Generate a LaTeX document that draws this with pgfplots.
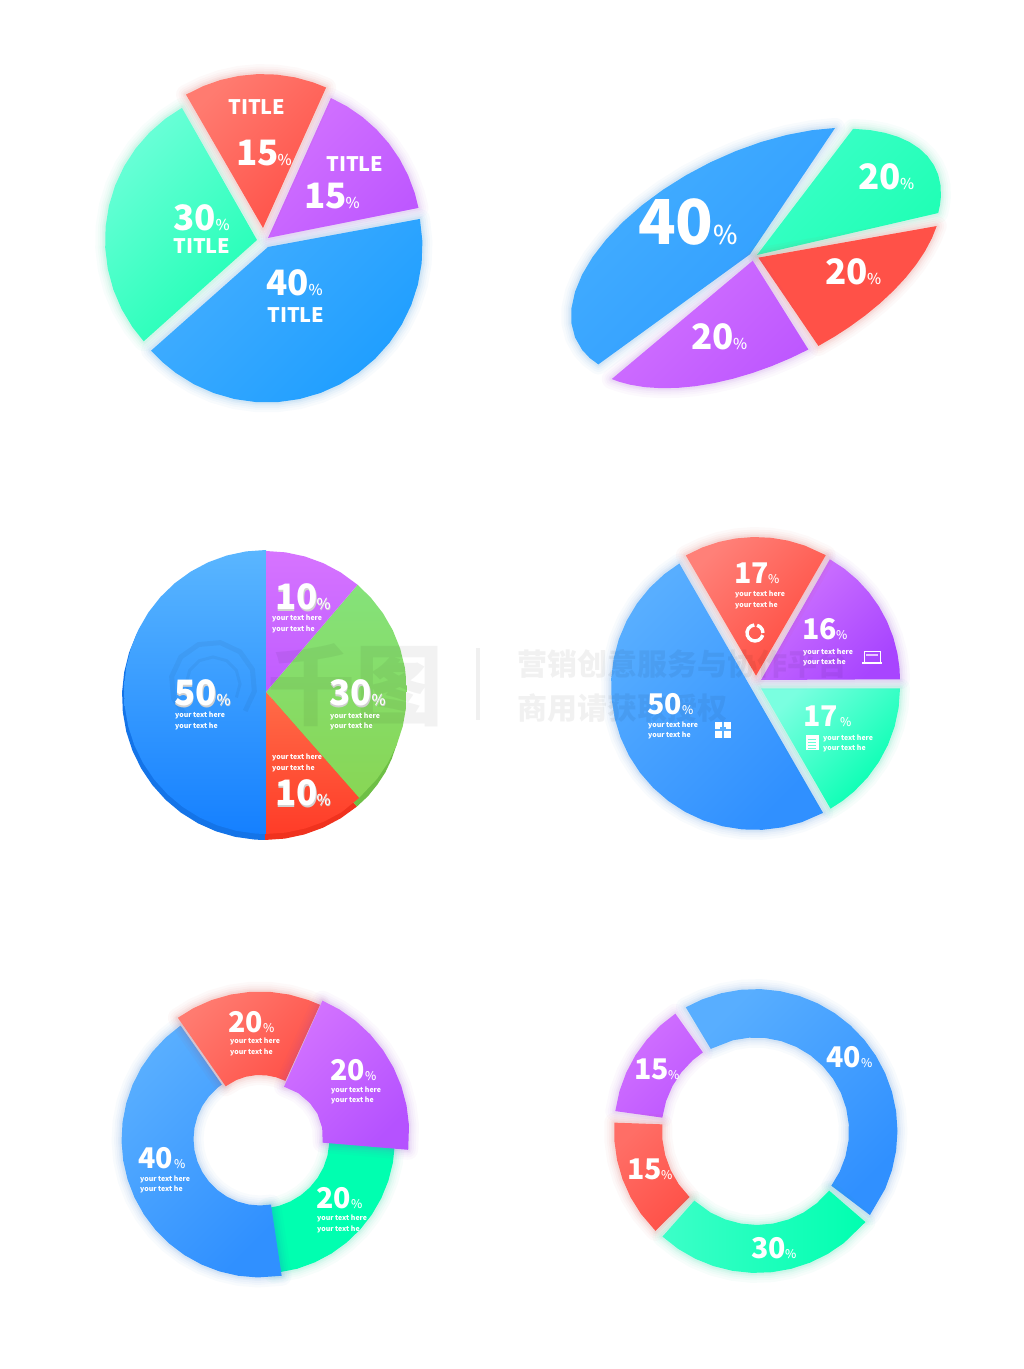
\documentclass[border=0pt]{standalone}
\usepackage{fontspec}
\setmainfont{Noto Sans CJK SC}
\newfontfamily\medf{Noto Sans CJK SC Medium}
\usepackage{pgfplots}
\pgfplotsset{compat=1.18}
\usepgfplotslibrary{polar}

% palette, light end then dark end
\definecolor{redA}{HTML}{FF7B70}\definecolor{redB}{HTML}{FF5148}
\definecolor{purA}{HTML}{D272FF}\definecolor{purB}{HTML}{BE58FF}
\definecolor{greA}{HTML}{6BFFD8}\definecolor{greB}{HTML}{20FFB5}
\definecolor{greC}{HTML}{3CFFC8}
\definecolor{bluA}{HTML}{44AEFF}\definecolor{bluB}{HTML}{1E9EFF}
\definecolor{bluC}{HTML}{2E9CFF}
\definecolor{bl2A}{HTML}{58AEFF}\definecolor{bl2B}{HTML}{3090FF}
\definecolor{pu2A}{HTML}{D076FF}\definecolor{pu2B}{HTML}{A845FF}
\definecolor{pu3B}{HTML}{B552FF}
\definecolor{gr2A}{HTML}{7AFFE0}\definecolor{gr2B}{HTML}{00FFB0}
\definecolor{re2A}{HTML}{FF8078}\definecolor{re2B}{HTML}{FF4A3E}
\definecolor{re3A}{HTML}{FF6E66}
\definecolor{p3bA}{HTML}{5AB6FF}\definecolor{p3bB}{HTML}{1580FF}
\definecolor{p3pA}{HTML}{D674FF}\definecolor{p3pB}{HTML}{BF5CFF}
\definecolor{p3gA}{HTML}{85E27A}\definecolor{p3gB}{HTML}{88D655}
\definecolor{p3rA}{HTML}{FF6C48}\definecolor{p3rB}{HTML}{FF3C28}
\definecolor{rimb}{HTML}{1474E8}\definecolor{rimr}{HTML}{F0321E}\definecolor{rimg}{HTML}{6EBF46}

% [shading angle]{centre x}{centre y, px from top}{light}{dark}{polar points}
\newcommand{\piece}[6][45]{%
  \addplot[data cs=polar,xshift=#2pt,yshift={(1369-#3)*1pt},draw=#5!80!black,fill=none,opacity=.03,line width=20pt,line join=round] coordinates {#6} --cycle;
  \addplot[data cs=polar,xshift=#2pt,yshift={(1369-#3)*1pt},draw=#5!80!black,fill=none,opacity=.03,line width=15pt,line join=round] coordinates {#6} --cycle;
  \addplot[data cs=polar,xshift=#2pt,yshift={(1369-#3)*1pt},draw=#5!80!black,fill=none,opacity=.04,line width=11pt,line join=round] coordinates {#6} --cycle;
  \addplot[data cs=polar,xshift=#2pt,yshift={(1369-#3)*1pt},draw=#5!80!black,fill=none,opacity=.05,line width=7pt,line join=round] coordinates {#6} --cycle;
  \addplot[data cs=polar,xshift=#2pt,yshift={(1369-#3)*1pt},draw=#5!80!black,fill=none,opacity=.06,line width=4pt,line join=round] coordinates {#6} --cycle;
  \addplot[data cs=polar,xshift=#2pt,yshift={(1369-#3)*1pt},draw=none,top color=#4,bottom color=#5,shading angle=#1] coordinates {#6} --cycle;
}
% same, without the glow
\newcommand{\flatpiece}[6][0]{%
  \addplot[data cs=polar,xshift=#2pt,yshift={(1369-#3)*1pt},draw=none,top color=#4,bottom color=#5,shading angle=#1] coordinates {#6} --cycle;
}
% {x}{baseline}{number}{size}{x of percent}{size of percent}
\newcommand{\val}[6]{%
  \node[anchor=base west,inner sep=0pt,text=white] at (axis cs:#1-1,{1369-#2-1}) {\fontsize{#4}{#4}\selectfont\bfseries #3};
  \node[anchor=base west,inner sep=0pt,text=white] at (axis cs:#5,{1369-#2-1}) {\fontsize{#6}{#6}\selectfont\medf \%};
}
% number with the grey lower edge of the third pie
\newcommand{\valrim}[6]{%
  \node[anchor=base west,inner sep=0pt,text=black!18] at (axis cs:#1-.5,{1369-#2-2.5}) {\fontsize{#4}{#4}\selectfont\bfseries #3};
  \node[anchor=base west,inner sep=0pt,text=black!18] at (axis cs:#5+.4,{1369-#2-2}) {\fontsize{#6}{#6}\selectfont\medf \%};
  \val{#1}{#2}{#3}{#4}{#5}{#6}
}
\newcommand{\ttl}[2]{%
  \node[anchor=base west,inner sep=0pt,text=white] at (axis cs:#1,{1369-#2-1}) {\fontsize{20}{20}\selectfont\bfseries TITLE};
}
\newcommand{\lines}[3]{%
  \node[anchor=base west,inner sep=0pt,text=white] at (axis cs:#1,{1369-#2-1}) {\fontsize{7}{7}\selectfont\bfseries your text here};
  \node[anchor=base west,inner sep=0pt,text=white] at (axis cs:#1,{1369-#3-1}) {\fontsize{7}{7}\selectfont\bfseries your text he};
}
% small icon, points relative to its centre
\newcommand{\icon}[4]{%
  \addplot[xshift=#1pt,yshift={(1369-#2)*1pt},#3] coordinates {#4};
}

\begin{document}
\begin{tikzpicture}
\path[use as bounding box] (0pt,0pt) rectangle (1024pt,1369pt);

% tilted pie, top right: unit circle through skewed axis vectors
\begin{axis}[x={(184pt,62pt)},y={(0pt,110pt)},xmin=-1.5,xmax=1.5,ymin=-1.5,ymax=1.5,
  hide axis,clip=false,at={(0pt,0pt)},anchor=origin]
\piece{755}{254}{bluA}{bluC}{(155,.03)(64.2,1)(72,1)(80,1)(88,1)(96,1)(104,1)(112,1)(120,1)(128,1)(136,1)(144,1)(152,1)(160,1)(168,1)(176,1)(184,1)(192,1)(200,1)(206,1)(211.6,1)}
\piece{757}{255}{greC}{greB}{(0,0)(58.5,1)(52,1)(46,1)(40,1)(34,1)(28,1)(22,1)(16,1)(10,1)(4,1)(-2,1)(-6,1)(-10,1)}
\piece{757}{263}{redB}{redB}{(81,.045)(-12.4,1)(-18,1)(-24,1)(-30,1)(-36,1)(-42,1)(-48,1)(-54,1)(-60,1)(-65,1)(-70.5,1)}
\piece{755.5}{262}{purA}{purB}{(127,.025)(-73.3,1)(-79,1)(-85,1)(-91,1)(-97,1)(-103,1)(-109,1)(-115,1)(-121,1)(-127,1)(-133,1)(-138,1)(-141.4,1)}
\end{axis}

\begin{axis}[x=1pt,y=1pt,xmin=0,xmax=1024,ymin=0,ymax=1369,
  hide axis,clip=false,at={(0pt,0pt)},anchor=origin]

% first pie, exploded
\piece{267}{247}{bluA}{bluB}{(0,1)(10.4,155.5)(2,155.5)(-6,155.5)(-14,155.5)(-22,155.5)(-30,155.5)(-38,155.5)(-46,155.5)(-54,155.5)(-62,155.5)(-70,155.5)(-78,155.5)(-86,155.5)(-94,155.5)(-102,155.5)(-110,155.5)(-118,155.5)(-126,155.5)(-132,155.5)(-138.2,155.5)}
\piece{257}{240}{greA}{greB}{(0,0)(119.6,152)(127,152)(135,152)(143,152)(151,152)(159,152)(167,152)(175,152)(183,152)(191,152)(199,152)(207,152)(215,152)(221.8,152)}
\piece{268}{238}{purA}{purB}{(0,0)(65.8,153.5)(59,153.5)(52,153.5)(45,153.5)(38,153.5)(31,153.5)(24,153.5)(17,153.5)(11.3,153.5)}
\piece{263}{228}{redA}{redB}{(0,0)(120,154)(113,154)(106,154)(99,154)(92,154)(85,154)(78,154)(71,154)(65.8,154)}

% third pie, flat with a darker rim
\addplot[data cs=polar,xshift=265pt,yshift={(1369-697)*1pt},draw=none,fill=rimb] coordinates {(90,143)(98,143)(106,143)(114,143)(122,143)(130,143)(138,143)(146,143)(154,143)(162,143)(170,143)(178,143)(186,143)(194,143)(202,143)(210,143)(218,143)(226,143)(234,143)(242,143)(250,143)(258,143)(266,143)(270,143)} --cycle;
\addplot[data cs=polar,xshift=265pt,yshift={(1369-697)*1pt},draw=none,fill=rimr] coordinates {(0,0)(270,143)(278,143)(286,143)(294,143)(302,143)(310,143)} --cycle;
\addplot[data cs=polar,xshift=265pt,yshift={(1369-697)*1pt},draw=none,fill=rimg] coordinates {(0,0)(310,143)(316,143)(322,142.5)(328,142)(334,141)(340,140)(346,139)} --cycle;
\flatpiece{266}{692}{p3bA}{p3bB}{(90,142)(98,142)(106,142)(114,142)(122,142)(130,142)(138,142)(146,142)(154,142)(162,142)(170,142)(178,142)(186,142)(194,142)(202,142)(210,142)(218,142)(226,142)(234,142)(242,142)(250,142)(258,142)(266,142)(270,142)}
\flatpiece{266}{692}{p3gA}{p3gB}{(0,0)(49.5,141)(42,141)(34,141)(26,141)(18,141)(10,141)(2,141)(-6,141)(-14,141)(-22,141)(-30,141)(-38,141)(-48.7,141)}
\flatpiece{266}{692}{p3pA}{p3pB}{(0,0)(90,141)(82,141)(74,141)(66,141)(58,141)(49.5,141)}
\flatpiece{266}{692}{p3rA}{p3rB}{(0,0)(-90,142)(-82,142)(-74,142)(-66,142)(-58,142)(-48.7,141)}

% fourth pie
\piece{755}{686}{bl2A}{bl2B}{(121.7,144)(129,144)(137,144)(145,144)(153,144)(161,144)(169,144)(177,144)(185,144)(193,144)(201,144)(209,144)(217,144)(225,144)(233,144)(241,144)(249,144)(257,144)(265,144)(273,144)(281,144)(289,144)(298.2,144)}
\piece{761}{688.3}{gr2A}{gr2B}{(0,0)(0,139)(-8,139)(-16,139)(-24,139)(-32,139)(-40,139)(-48,139)(-54,139)(-60,139)}
\piece{761}{680}{pu2A}{pu2B}{(0,0)(60.3,139)(53,139)(46,139)(39,139)(32,139)(25,139)(18,139)(11,139)(5,139)(0.3,139)}
\piece{756}{680}{re2A}{re2B}{(90,4.3)(119.4,143)(112,143)(105,143)(98,143)(91,143)(84,143)(77,143)(70,143)(60.8,143)}

% fifth pie, ring
\piece{260}{1139}{gr2B}{gr2B}{(-2,135)(-10,135)(-18,135)(-26,135)(-34,135)(-42,135)(-50,135)(-58,135)(-66,135)(-74,135)(-84,135)(-84,69.5)(-74,69.5)(-64,69.5)(-54,69.5)(-44,69.5)(-34,69.5)(-24,69.5)(-14,69.5)(-2,69.5)}
\piece{260}{1139}{bl2A}{bl2B}{(125,138.5)(133,138.5)(141,138.5)(149,138.5)(157,138.5)(165,138.5)(173,138.5)(181,138.5)(189,138.5)(197,138.5)(205,138.5)(213,138.5)(221,138.5)(229,138.5)(237,138.5)(245,138.5)(253,138.5)(261,138.5)(269,138.5)(279,138.5)(279.5,66.5)(270,66.5)(260,66.5)(250,66.5)(240,66.5)(230,66.5)(220,66.5)(210,66.5)(200,66.5)(190,66.5)(180,66.5)(170,66.5)(160,66.5)(150,66.5)(140,66.5)(130,66.5)(125,66.5)}
\piece{260}{1133}{redA}{redB}{(125.5,141.5)(118,141.5)(110,141.5)(102,141.5)(94,141.5)(86,141.5)(78,141.5)(70,141.5)(64.9,141.5)(64,58)(74,58)(84,58)(94,58)(104,58)(114,58)(126.3,58)}
\piece{264.9}{1133}{purA}{pu3B}{(66.5,144.3)(59,144.3)(51,144.3)(43,144.3)(35,144.3)(27,144.3)(19,144.3)(11,144.3)(3,144.3)(-6.7,144.3)(-9.5,58.6)(5,57.5)(20,56)(33.6,54)(50,52)(67.6,50.1)}

% sixth pie, thin ring
\piece{755.5}{1131}{bl2A}{bl2B}{(119.4,142)(112,142)(104,142)(96,142)(88,142)(80,142)(72,142)(64,142)(56,142)(48,142)(40,142)(32,142)(24,142)(16,142)(8,142)(0,142)(-8,142)(-16,142)(-24,142)(-36.3,142)(-35.8,93.5)(-26,93.5)(-16,93.5)(-6,93.5)(4,93.5)(14,93.5)(24,93.5)(34,93.5)(44,93.5)(54,93.5)(64,93.5)(74,93.5)(84,93.5)(94,93.5)(104,93.5)(118.6,93.5)}
\piece{755}{1130}{purA}{purB}{(124.4,141)(132,141)(140,141)(148,141)(156,141)(164,141)(172.3,141)(172.4,93.5)(162,93.5)(152,93.5)(142,93.5)(132,93.5)(123.9,93.5)}
\piece{755}{1131}{re3A}{redB}{(176.6,141)(184,141)(192,141)(200,141)(208,141)(216,141)(225.1,141)(225.3,93)(215,93)(205,93)(195,93)(185,93)(175.9,93)}
\piece[90]{757}{1132}{greC}{gr2B}{(227.9,141)(236,141)(244,141)(252,141)(260,141)(268,141)(276,141)(284,141)(292,141)(300,141)(308,141)(320.3,141)(320.9,93)(310,93)(300,93)(290,93)(280,93)(270,93)(260,93)(250,93)(240,93)(227.6,93)}

% watermark
\node[inner sep=0pt,text=black,opacity=.05] at (axis cs:355,684) {\fontsize{88}{88}\selectfont\bfseries 千图};
\addplot[data cs=polar,xshift=213pt,yshift={(1369-684)*1pt},draw=black,opacity=.045,line width=5pt] coordinates {(-40,42)(-10,42)(20,42)(50,42)(80,42)(110,42)(140,42)(170,42)(200,42)(230,42)(250,42)};
\addplot[data cs=polar,xshift=213pt,yshift={(1369-684)*1pt},draw=black,opacity=.045,line width=3pt] coordinates {(-30,27)(0,27)(30,27)(60,27)(90,27)(120,27)(150,27)(180,27)(210,27)};
\addplot[draw=black,opacity=.06,line width=4pt] coordinates {(478,721)(478,649)};
\node[anchor=base west,inner sep=0pt,text=black,opacity=.055] at (axis cs:517,{1369-676}) {\fontsize{30}{30}\selectfont\bfseries 营销创意服务与协作平台};
\node[anchor=base west,inner sep=0pt,text=black,opacity=.055] at (axis cs:517,{1369-720}) {\fontsize{30}{30}\selectfont\bfseries 商用请获取授权};

% icons of the fourth pie
\addplot[data cs=polar,xshift=755pt,yshift={(1369-633)*1pt},draw=white,line width=3.4pt] coordinates {(75,8)(50,8)(25,8)(0,8)};
\addplot[data cs=polar,xshift=755pt,yshift={(1369-633)*1pt},draw=white,line width=3.4pt] coordinates {(-15,8)(-40,8)(-65,8)(-90,8)(-115,8)(-140,8)(-165,8)(170,8)(145,8)(120,8)(95,8)};
\icon{872}{657}{draw=white,line width=.8pt}{(-8,-5)(8,-5)(8,6)(-8,6)(-8,-5)}
\icon{872}{657}{draw=white,line width=1.2pt}{(-10,-6)(10,-6)}
\icon{872}{657}{draw=white,line width=2pt,opacity=.7}{(-6,2)(6,2)}
\icon{812}{743}{draw=none,fill=white}{(-6.5,-7.5)(6.5,-7.5)(6.5,7.5)(-6.5,7.5)}
\icon{812}{743}{draw=greA,line width=.7pt}{(-4,4)(4,4)}
\icon{812}{743}{draw=greA,line width=.7pt}{(-4,1)(4,1)}
\icon{812}{743}{draw=greA,line width=.7pt}{(-4,-2)(4,-2)}
\icon{812}{743}{draw=greA,line width=.7pt}{(-4,-5)(4,-5)}
\icon{723}{730}{draw=none,fill=white}{(-8,-8)(8,-8)(8,8)(-8,8)}
\icon{723}{730}{draw=bl2A,line width=1.2pt}{(-8,0)(-2,0)(-2,2)(2,2)(2,0)(8,0)}
\icon{723}{730}{draw=bl2A,line width=1.2pt}{(0,8)(0,-8)}

% labels
\ttl{228}{114}\val{237}{165}{15}{35}{277.5}{15}
\ttl{326}{171}\val{305}{208}{15}{35}{345.5}{15}
\val{174}{230}{30}{35}{215.5}{15}\ttl{173}{253}
\val{267}{295}{40}{35}{308.5}{15}\ttl{267}{322}

\val{639}{244}{40}{62}{713}{26}
\val{859}{189}{20}{35}{900}{15}
\val{826}{284}{20}{35}{867}{15}
\val{692}{349}{20}{35}{733}{15}

\valrim{276}{609}{10}{35}{316.5}{15}\lines{272}{620}{631}
\valrim{175}{705}{50}{35}{216.5}{15}\lines{175}{717}{728}
\valrim{330}{705}{30}{35}{371.5}{15}\lines{330}{718}{728}
\lines{272}{759}{770}\valrim{276}{805}{10}{35}{316.5}{15}

\val{735}{583}{17}{28.5}{768}{12}\lines{735}{596}{607}
\val{803}{639}{16}{28.5}{836}{12}\lines{803}{654}{664}
\val{804}{726}{17}{28.5}{840}{12}\lines{823}{740}{750}
\val{648}{714}{50}{28.5}{682}{12}\lines{648}{727}{737}

\val{229}{1032}{20}{28.5}{263}{12}\lines{230}{1043}{1054}
\val{331}{1080}{20}{28.5}{365}{12}\lines{331}{1092}{1102}
\val{317}{1208}{20}{28.5}{351}{12}\lines{317}{1220}{1231}
\val{139}{1168}{40}{28.5}{174}{12}\lines{140}{1181}{1191}

\val{827}{1067}{40}{28.5}{861}{12}
\val{635}{1079}{15}{28.5}{668}{12}
\val{628}{1179}{15}{28.5}{661}{12}
\val{752}{1258}{30}{28.5}{785}{12}
\end{axis}
\end{tikzpicture}
\end{document}
